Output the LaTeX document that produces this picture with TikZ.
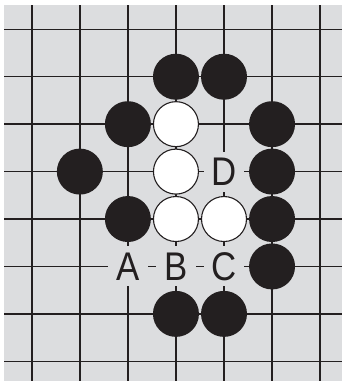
\documentclass[tikz,border=0pt]{standalone}
\usepackage{fontspec}
\newfontfamily\labfont[FakeStretch=0.87]{Liberation Sans}
\definecolor{bg}{RGB}{220,221,223}
\definecolor{ink}{RGB}{35,31,32}
\begin{document}
\begin{tikzpicture}[x=1pt,y=-1pt,
  gridline/.style={ink,line width=1.5pt},
  bstone/.style={circle,fill=ink,minimum size=46pt,inner sep=0pt},
  wstone/.style={circle,fill=white,draw=ink,line width=1.1pt,minimum size=45pt,inner sep=0pt},
  lab/.style={fill=bg,minimum width=40pt,minimum height=40pt,inner sep=0pt,
    font=\labfont\fontsize{40}{40}\selectfont,text=ink}]
\useasboundingbox (0,0) rectangle (342,381);
\fill[bg] (4,5) rectangle (342,381);
\foreach \i in {0,...,6} \draw[gridline] ({31.8+48.05*\i},5) -- ({31.8+48.05*\i},381);
\foreach \j in {0,...,7} \draw[gridline] (4,{29.3+47.43*\j}) -- (342,{29.3+47.43*\j});
\begin{scope}[shift={(31.8pt,-29.3pt)},x=48.05pt,y=-47.43pt]
  % labels
  \node[lab] (lD) at (4,3) {D};
  \node[lab] (lA) at (2,5) {A};
  \node[lab] (lB) at (3,5) {B};
  \node[lab] (lC) at (4,5) {C};
  % black stones
  \node[bstone] (b1) at (3,1) {};
  \node[bstone] (b2) at (4,1) {};
  \node[bstone] (b3) at (2,2) {};
  \node[bstone] (b4) at (5,2) {};
  \node[bstone] (b5) at (1,3) {};
  \node[bstone] (b6) at (5,3) {};
  \node[bstone] (b7) at (2,4) {};
  \node[bstone] (b8) at (5,4) {};
  \node[bstone] (b9) at (5,5) {};
  \node[bstone] (b10) at (3,6) {};
  \node[bstone] (b11) at (4,6) {};
  % white stones
  \node[wstone] (w1) at (3,2) {};
  \node[wstone] (w2) at (3,3) {};
  \node[wstone] (w3) at (3,4) {};
  \node[wstone] (w4) at (4,4) {};
\end{scope}
\end{tikzpicture}
\end{document}
